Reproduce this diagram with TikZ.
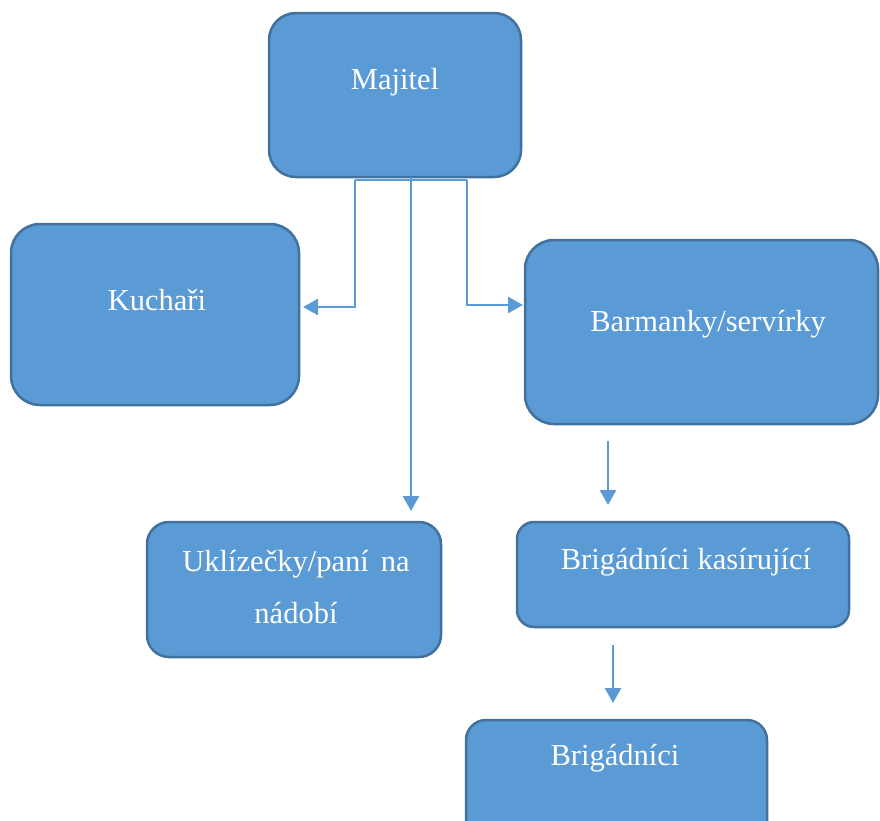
\documentclass[tikz,border=0pt]{standalone}
\usepackage{fontspec}
\setmainfont{Liberation Serif}
\usetikzlibrary{arrows.meta}
\definecolor{boxfill}{HTML}{5B9BD5}
\definecolor{boxline}{HTML}{41719C}
\definecolor{linkcol}{HTML}{5B9BD5}
\tikzset{
  x=1pt, y=-1pt,
  orgbox/.style={draw=boxline, line width=2.5pt, fill=boxfill, inner sep=0pt},
  lbl/.style={text=white, font=\fontsize{30.5}{36}\selectfont, anchor=base, inner sep=0pt},
  link/.style={draw=linkcol, line width=2.6pt},
  linkarrow/.style={link, -{Triangle[width=16pt,length=15pt]}},
}
\begin{document}
\begin{tikzpicture}
\useasboundingbox (0,0) rectangle (880,820);

% boxes
\node[orgbox, rounded corners=27pt, minimum width=252pt, minimum height=164pt] (maj) at (395,95) {};
\node[orgbox, rounded corners=29pt, minimum width=288pt, minimum height=181pt] (kuch) at (155,314.5) {};
\node[orgbox, rounded corners=29pt, minimum width=353pt, minimum height=184pt] (barm) at (701.5,332) {};
\node[orgbox, rounded corners=22pt, minimum width=294pt, minimum height=135pt] (ukl) at (294,589.5) {};
\node[orgbox, rounded corners=17pt, minimum width=332pt, minimum height=105pt] (kas) at (683,574.5) {};
\node[orgbox, rounded corners=20pt, minimum width=301pt, minimum height=130pt] (brig) at (616.5,785) {};

% labels
\node[lbl] (tmaj) at (395,89) {Majitel};
\node[lbl] (tkuch) at (157,310) {Kuchaři};
\node[lbl] (tbarm) at (708,331) {Barmanky/servírky};
\node[lbl] (tukl1) at (296,571) {Uklízečky/paní\hspace{12pt}na};
\node[lbl] (tukl2) at (296,623) {nádobí};
\node[lbl] (tkas) at (686,569) {Brigádníci\hspace{8pt}kasírující};
\node[lbl] (tbrig) at (615,765) {Brigádníci};

% connectors from the owner
\coordinate (hl) at (355,180);
\coordinate (hr) at (467,180);
\coordinate (hm) at (411,177);
\coordinate (kin) at (303,307);
\coordinate (bin) at (523,305);
\coordinate (uin) at (411,511);
\draw[link] (hl) -- (hr);
\draw[linkarrow] (hl) |- (kin);
\draw[linkarrow] (hr) |- (bin);
\draw[linkarrow] (hm) -- (uin);

% lower chain
\coordinate (a1) at (608,441);
\coordinate (a2) at (608,505);
\coordinate (b1) at (613,645);
\coordinate (b2) at (613,703);
\draw[linkarrow] (a1) -- (a2);
\draw[linkarrow] (b1) -- (b2);
\end{tikzpicture}
\end{document}
